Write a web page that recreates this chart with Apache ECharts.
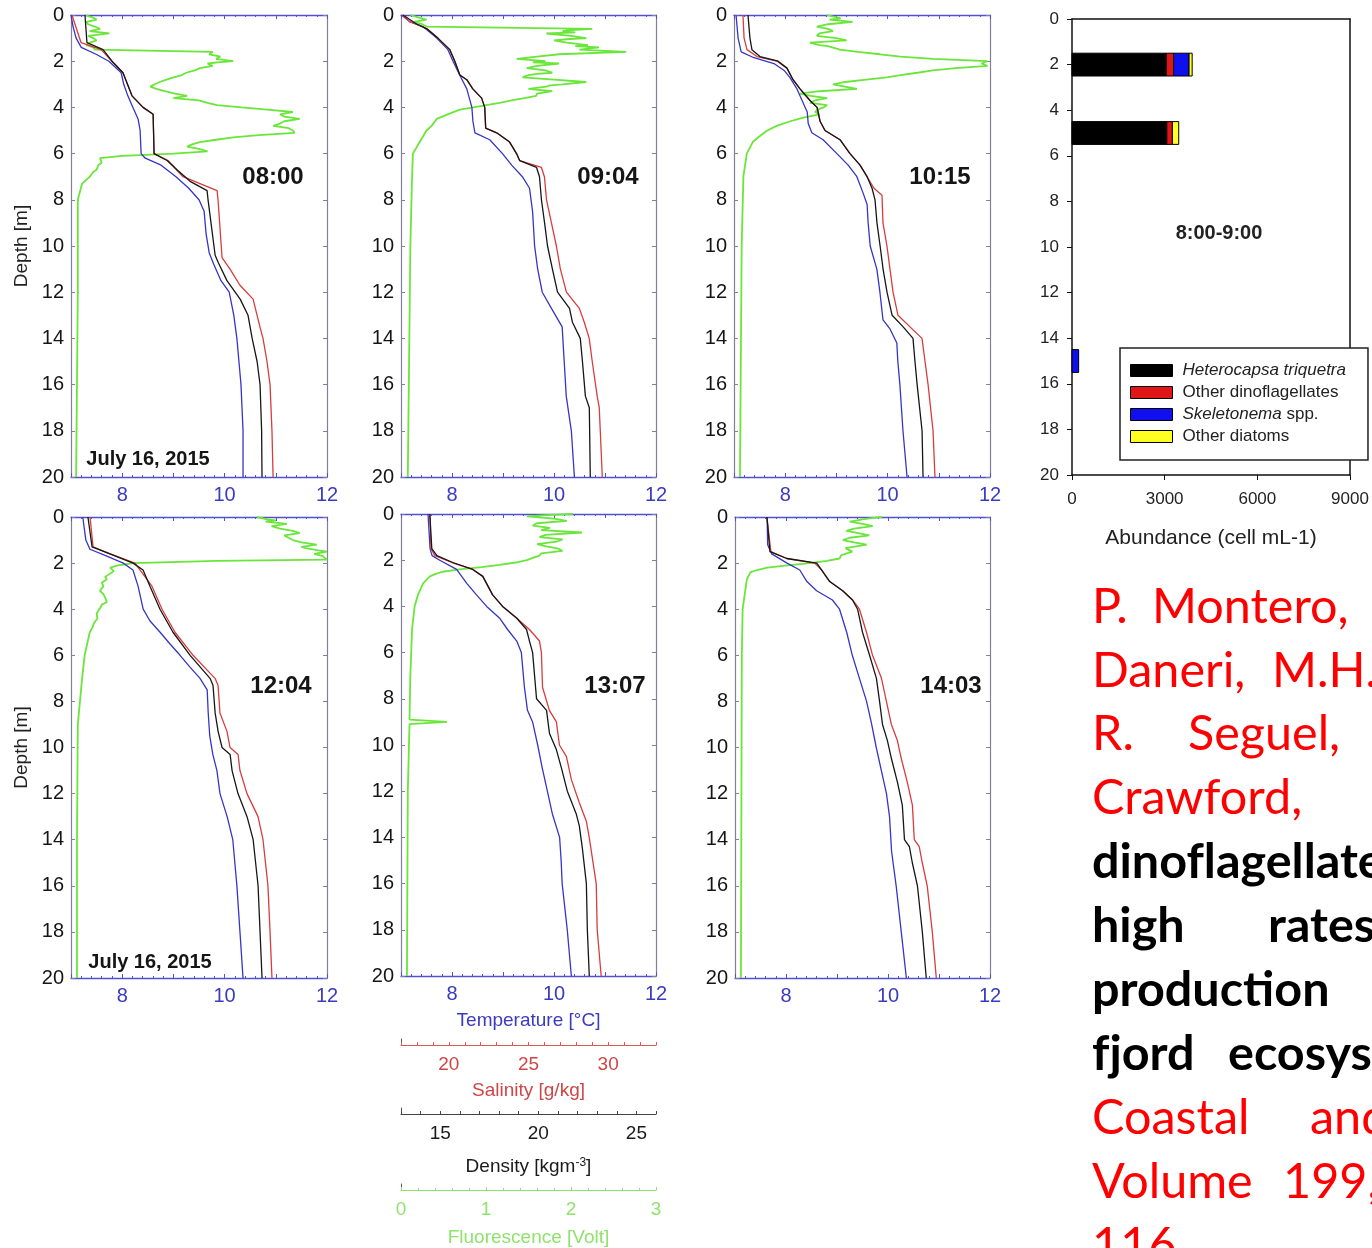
<!DOCTYPE html>
<html>
<head>
<meta charset="utf-8">
<script src="https://cdn.jsdelivr.net/npm/echarts@6/dist/echarts.min.js"></script>
<style>
  html, body { margin: 0; padding: 0; background: #ffffff; }
  #chart { width: 1372px; height: 1248px; }
</style>
</head>
<body>
<div id="chart"></div>
<script>
// CTD casts of July 16, 2015: [depth (m), value] pairs per cast.
const castTimes = ['08:00', '09:04', '10:15', '12:04', '13:07', '14:03'];

// Temperature (°C)
const temp0800 = [[0,7.0],[0.5,7.04],[1.0,7.1],[1.4,7.2],[1.7,7.49],[2.0,7.74],[2.5,7.98],[3.0,8.03],[3.5,8.11],[4.0,8.21],[4.5,8.31],[5.0,8.35],[6.0,8.37],[6.2,8.45],[6.5,8.76],[7.0,9.05],[7.5,9.3],[8.0,9.5],[8.5,9.6],[9.5,9.64],[10.3,9.7],[10.8,9.79],[11.5,9.93],[12.0,10.09],[13,10.18],[14,10.24],[15,10.28],[16,10.32],[17,10.34],[18,10.36],[20,10.36]];
const temp0904 = [[0,7.01],[0.3,7.18],[0.5,7.43],[1.0,7.7],[1.5,7.92],[2.0,8.02],[2.6,8.15],[3.2,8.29],[4.0,8.39],[4.6,8.41],[5.1,8.45],[5.4,8.74],[6.0,8.99],[6.5,9.17],[7.0,9.38],[7.5,9.52],[8.5,9.58],[10,9.62],[11,9.68],[12,9.77],[12.7,9.95],[13.5,10.16],[15,10.2],[16.5,10.24],[18,10.34],[20,10.4]];
const temp1015 = [[0,7.04],[1.0,7.08],[1.6,7.14],[1.85,7.39],[2.1,7.78],[2.4,7.98],[2.7,8.09],[3.2,8.23],[3.7,8.33],[4.2,8.43],[4.7,8.45],[5.1,8.52],[5.4,8.74],[6.0,9.01],[6.5,9.23],[7.0,9.4],[7.7,9.52],[8.2,9.6],[9,9.62],[10,9.66],[11,9.79],[12,9.85],[13.2,9.91],[13.6,10.05],[14.2,10.18],[15,10.2],[16,10.24],[18,10.3],[20,10.38]];
const temp1204 = [[0,7.23],[1.0,7.29],[1.4,7.37],[1.7,7.7],[2.0,8.02],[2.3,8.21],[3.0,8.31],[4.0,8.41],[4.5,8.54],[5.0,8.74],[5.5,8.93],[6.0,9.13],[6.5,9.32],[7.0,9.52],[7.5,9.66],[8.5,9.68],[9.5,9.71],[10.3,9.77],[11,9.85],[12,9.91],[13,10.05],[14,10.16],[16,10.24],[18,10.3],[20,10.36]];
const temp1307 = [[0,7.53],[1.5,7.57],[1.8,7.61],[2.0,7.76],[2.4,8.09],[3.0,8.29],[3.5,8.48],[4.0,8.68],[4.5,8.93],[5.0,9.09],[5.5,9.27],[6.0,9.36],[6.5,9.38],[7.5,9.42],[8.5,9.48],[9.0,9.58],[10,9.68],[11,9.77],[12,9.87],[13,9.97],[14,10.11],[15,10.14],[16,10.16],[18,10.26],[20,10.34]];
const temp1403 = [[0,7.63],[1.2,7.64],[1.6,7.72],[2.0,8.02],[2.3,8.27],[2.8,8.41],[3.2,8.6],[3.6,8.91],[4.0,9.05],[5.0,9.19],[6.0,9.3],[7.0,9.44],[8.0,9.58],[9.0,9.68],[10,9.77],[11,9.87],[12,9.97],[13,10.03],[14.5,10.07],[16,10.16],[18,10.26],[20,10.36]];

// Salinity (g/kg)
const sal0800 = [[0,17.06],[1.2,17.63],[1.5,18.88],[2.0,19.56],[2.5,20.25],[3.5,20.81],[4.0,21.5],[4.3,22.13],[6.0,22.19],[6.3,23.06],[7.0,24.0],[7.6,26.13],[8.0,26.19],[10.5,26.44],[11,26.94],[11.7,27.56],[12.3,28.38],[13.5,28.81],[14,29.0],[15,29.25],[16,29.44],[18,29.56],[20,29.63]];
const sal0904 = [[0,17.06],[0.3,17.56],[0.4,18.0],[0.6,18.63],[1.0,19.31],[1.5,20.06],[2.0,20.38],[2.6,20.69],[2.8,21.13],[3.2,21.5],[3.6,22.06],[4.0,22.25],[4.9,22.31],[5.1,23.0],[5.5,23.81],[6.0,24.25],[6.3,24.44],[6.6,25.81],[7.0,26.0],[8.0,26.13],[9.0,26.44],[10,26.75],[11,27.0],[12,27.38],[12.7,28.19],[13.3,28.5],[14,28.81],[15,29.0],[16.5,29.31],[17,29.44],[20,29.63]];
const sal1015 = [[0,17.56],[1.0,17.63],[1.5,17.81],[1.8,18.44],[2.0,19.69],[2.3,20.31],[2.8,20.69],[3.2,21.13],[3.7,21.75],[4.0,22.19],[4.6,22.38],[5.0,22.69],[5.4,23.63],[6.0,24.25],[6.5,24.88],[7.0,25.31],[7.5,25.75],[7.8,26.25],[9,26.31],[10,26.56],[11,26.75],[12,26.94],[13,27.25],[13.5,28.0],[14,28.75],[15,28.94],[16,29.13],[18,29.44],[20,29.56]];
const sal1204 = [[0,18.19],[1.3,18.38],[1.6,19.44],[2.0,21.0],[3.0,22.06],[4.0,22.69],[5.0,23.5],[6.0,24.63],[7.0,26.0],[7.3,26.19],[8.5,26.31],[9.3,26.75],[10,26.94],[10.3,27.44],[11,27.56],[12,28.0],[13,28.69],[14,29.0],[16,29.31],[18,29.44],[20,29.56]];
const sal1307 = [[0,18.81],[1.5,18.88],[1.8,19.13],[2.1,20.19],[2.4,21.5],[2.7,22.13],[3.5,22.75],[4.0,23.38],[4.5,24.25],[5.0,25.06],[5.5,25.69],[6.0,25.81],[7.5,25.88],[8.5,26.31],[9.0,26.75],[10,26.94],[10.5,27.38],[11.5,27.69],[12.5,28.19],[13.3,28.63],[14,28.81],[16,29.25],[18,29.31],[20,29.56]];
const sal1403 = [[0,19.0],[1.5,19.25],[1.8,20.25],[2.0,22.0],[2.3,22.44],[2.8,22.94],[3.2,23.75],[3.6,24.38],[4.0,24.81],[5.0,25.25],[6.0,25.63],[7.0,26.19],[8.0,26.5],[9.0,26.81],[9.7,27.19],[10.5,27.44],[11.5,27.81],[12.5,28.13],[14,28.25],[14.3,28.56],[15,28.75],[16,29.06],[18,29.38],[20,29.63]];

// Density (kg m-3)
const dens0800 = [[0,13.71],[1.2,13.81],[1.5,14.63],[2.0,15.08],[2.5,15.64],[3.5,16.1],[4.0,16.66],[4.3,17.17],[6.0,17.22],[6.3,17.88],[6.7,18.38],[7.2,19.05],[7.6,19.91],[8.0,19.96],[10.4,20.32],[10.7,20.47],[11.5,20.92],[12.3,21.59],[13,21.99],[14,22.2],[15,22.45],[16,22.6],[18,22.68],[20,22.7]];
const dens0904 = [[0,13.1],[0.4,13.81],[0.6,14.32],[1.0,14.88],[1.5,15.49],[2.0,15.74],[2.6,16.0],[2.8,16.35],[3.2,16.66],[3.6,17.11],[4.0,17.27],[4.9,17.32],[5.1,17.88],[5.5,18.54],[6.0,18.89],[6.3,19.05],[6.6,19.91],[7.0,20.06],[8.0,20.16],[9.0,20.32],[10,20.47],[11,20.72],[12,20.98],[12.7,21.59],[13.3,21.74],[14,22.14],[15,22.25],[16.5,22.4],[17,22.6],[20,22.65]];
const dens1015 = [[0,13.71],[1.0,13.81],[1.5,13.91],[1.8,14.32],[2.0,15.24],[2.3,15.69],[2.8,16.0],[3.2,16.35],[3.7,16.86],[4.0,17.22],[4.6,17.37],[5.0,17.62],[5.4,18.38],[6.0,18.89],[6.5,19.4],[7.0,19.76],[7.5,20.01],[8.0,20.16],[9,20.26],[10,20.42],[11,20.57],[12,20.77],[13,21.03],[13.5,21.59],[14,22.09],[15,22.19],[16,22.3],[18,22.55],[20,22.6]];
const dens1204 = [[0,13.86],[1.3,14.07],[1.6,14.98],[2.0,16.15],[2.3,16.66],[3.0,17.01],[4.0,17.52],[5.0,18.18],[6.0,19.05],[7.0,20.06],[7.3,20.21],[8.5,20.32],[9.3,20.47],[10,20.67],[10.3,21.08],[11,21.18],[12,21.48],[13,21.94],[14,22.25],[16,22.5],[18,22.6],[20,22.7]];
const dens1307 = [[0,14.47],[1.5,14.57],[1.8,14.83],[2.1,15.64],[2.4,16.66],[2.7,17.17],[3.5,17.67],[4.0,18.18],[4.5,18.89],[5.0,19.4],[5.5,19.55],[6.0,19.71],[7.0,19.81],[8.0,19.91],[8.5,20.42],[9.5,20.57],[10.2,20.92],[11,21.18],[12,21.48],[13,21.94],[13.5,22.09],[14.5,22.25],[16,22.45],[18,22.5],[20,22.6]];
const dens1403 = [[0,14.63],[1.5,14.78],[1.8,15.64],[2.0,17.17],[2.3,17.42],[2.8,17.83],[3.2,18.49],[3.6,18.99],[4.0,19.25],[5.0,19.5],[6.0,19.86],[7.0,20.21],[8.0,20.37],[9.0,20.52],[9.7,20.77],[10.5,20.98],[11.5,21.28],[12.5,21.53],[14,21.64],[14.3,21.89],[15,22.04],[16,22.3],[18,22.55],[20,22.75]];

// Fluorescence (Volt)
const fluo0800 = [[0,0.16],[0.1,0.25],[0.2,0.3],[0.3,0.18],[0.4,0.2],[0.5,0.28],[0.6,0.34],[0.7,0.22],[0.8,0.45],[0.9,0.2],[1.0,0.26],[1.1,0.3],[1.2,0.22],[1.3,0.18],[1.4,0.26],[1.5,0.28],[1.6,1.66],[1.7,1.62],[1.8,1.75],[1.9,1.7],[2.0,1.9],[2.05,1.72],[2.1,1.6],[2.2,1.66],[2.3,1.51],[2.4,1.45],[2.5,1.35],[2.6,1.3],[2.7,1.2],[2.8,1.12],[2.9,1.04],[3.0,0.98],[3.1,0.93],[3.2,1.0],[3.3,1.1],[3.4,1.22],[3.5,1.36],[3.6,1.2],[3.7,1.5],[3.8,1.6],[3.9,1.71],[4.0,2.0],[4.1,2.3],[4.2,2.6],[4.3,2.45],[4.4,2.5],[4.5,2.68],[4.6,2.5],[4.7,2.45],[4.8,2.37],[4.9,2.55],[5.0,2.6],[5.1,2.62],[5.2,2.2],[5.3,1.9],[5.4,1.7],[5.5,1.51],[5.6,1.42],[5.7,1.36],[5.8,1.5],[5.9,1.6],[6.0,1.2],[6.1,0.6],[6.2,0.34],[6.4,0.36],[6.5,0.32],[6.7,0.3],[6.8,0.26],[7.0,0.22],[7.2,0.16],[7.3,0.13],[8,0.08],[12,0.08],[20,0.06]];
const fluo0904 = [[0,0.11],[0.1,0.2],[0.2,0.3],[0.3,0.15],[0.4,0.25],[0.5,0.3],[0.6,2.25],[0.65,2.0],[0.7,1.9],[0.75,2.05],[0.8,1.71],[0.9,2.0],[1.0,2.18],[1.05,1.95],[1.1,1.8],[1.2,1.95],[1.3,2.2],[1.35,2.05],[1.4,2.33],[1.5,2.1],[1.6,2.65],[1.7,1.86],[1.8,1.6],[1.9,1.36],[2.0,1.7],[2.05,1.55],[2.1,1.86],[2.2,1.6],[2.3,1.48],[2.4,1.7],[2.5,1.78],[2.55,1.6],[2.6,1.5],[2.7,1.43],[2.8,1.8],[2.9,2.18],[3.0,1.9],[3.05,1.75],[3.1,1.71],[3.2,1.5],[3.3,1.78],[3.4,1.6],[3.5,1.59],[3.6,1.45],[3.7,1.3],[3.8,1.16],[4.0,0.85],[4.1,0.69],[4.3,0.55],[4.5,0.42],[4.8,0.36],[5.0,0.3],[5.5,0.22],[6.0,0.14],[7.0,0.13],[10,0.11],[20,0.08]];
const fluo1015 = [[0,1.09],[0.1,1.2],[0.15,1.25],[0.2,1.12],[0.3,1.39],[0.4,1.1],[0.5,0.97],[0.6,1.1],[0.7,1.16],[0.8,1.0],[0.9,0.97],[1.0,1.2],[1.1,1.32],[1.2,0.89],[1.3,1.0],[1.35,1.1],[1.5,1.24],[1.6,1.45],[1.7,1.71],[1.8,1.95],[1.9,2.33],[2.0,2.97],[2.1,2.9],[2.2,2.97],[2.3,2.6],[2.4,2.33],[2.5,2.15],[2.6,1.95],[2.7,1.79],[2.8,1.55],[2.9,1.3],[3.0,1.16],[3.1,1.3],[3.2,1.44],[3.3,1.0],[3.4,0.77],[3.5,0.9],[3.6,1.09],[3.7,0.95],[3.8,0.89],[3.9,1.09],[4.0,1.05],[4.1,0.98],[4.2,0.95],[4.3,1.0],[4.45,0.8],[4.6,0.66],[4.8,0.5],[5.0,0.39],[5.25,0.3],[5.5,0.22],[6.0,0.15],[7.0,0.11],[10,0.09],[20,0.07]];
const fluo1204 = [[0,2.18],[0.1,2.3],[0.15,2.4],[0.2,2.28],[0.3,2.53],[0.4,2.35],[0.5,2.45],[0.6,2.6],[0.7,2.68],[0.8,2.5],[0.9,2.55],[1.0,2.6],[1.1,2.7],[1.2,2.88],[1.3,2.7],[1.35,2.75],[1.45,2.9],[1.5,3.0],[1.6,2.85],[1.7,2.95],[1.85,3.0],[1.9,1.71],[2.0,0.73],[2.1,0.55],[2.2,0.46],[2.35,0.5],[2.5,0.44],[2.6,0.4],[2.7,0.42],[2.85,0.36],[3.0,0.38],[3.2,0.34],[3.35,0.38],[3.5,0.4],[3.7,0.42],[3.8,0.36],[3.9,0.35],[4.0,0.33],[4.2,0.3],[4.4,0.31],[4.6,0.27],[4.8,0.25],[5.0,0.22],[5.5,0.19],[6.0,0.16],[7.0,0.13],[9,0.08],[14,0.07],[20,0.07]];
const fluo1307 = [[0,2.02],[0.05,1.7],[0.1,1.48],[0.2,1.8],[0.3,1.95],[0.4,1.6],[0.5,1.55],[0.6,1.75],[0.7,1.65],[0.8,2.13],[0.9,1.7],[1.0,1.63],[1.1,1.9],[1.2,1.83],[1.3,1.6],[1.4,1.71],[1.5,1.85],[1.6,1.9],[1.7,1.65],[1.8,1.63],[1.9,1.55],[2.0,1.48],[2.1,1.35],[2.2,1.16],[2.3,0.95],[2.4,0.69],[2.5,0.49],[2.6,0.4],[2.7,0.34],[2.85,0.3],[3.0,0.26],[3.25,0.23],[3.5,0.2],[3.75,0.18],[4.0,0.16],[5.0,0.13],[7.0,0.11],[8.9,0.1],[9.0,0.54],[9.1,0.1],[12,0.08],[20,0.07]];
const fluo1403 = [[0,1.73],[0.05,1.6],[0.1,1.5],[0.2,1.35],[0.3,1.5],[0.4,1.62],[0.5,1.4],[0.6,1.31],[0.7,1.45],[0.8,1.58],[0.9,1.35],[1.0,1.27],[1.1,1.4],[1.2,1.55],[1.35,1.3],[1.5,1.38],[1.65,1.25],[1.8,1.23],[1.9,1.08],[2.0,0.88],[2.1,0.62],[2.2,0.38],[2.3,0.26],[2.4,0.18],[2.55,0.16],[2.7,0.14],[3.2,0.12],[4.0,0.09],[6.0,0.08],[20,0.07]];

const tempCasts = [temp0800, temp0904, temp1015, temp1204, temp1307, temp1403];
const salCasts = [sal0800, sal0904, sal1015, sal1204, sal1307, sal1403];
const densCasts = [dens0800, dens0904, dens1015, dens1204, dens1307, dens1403];
const fluoCasts = [fluo0800, fluo0904, fluo1015, fluo1204, fluo1307, fluo1403];

// Axis ranges and tick label steps
const depthRange = [0, 20];
const tempRange = [7, 12];
const salRange = [17, 33];
const densRange = [13, 26];
const fluoRange = [0, 3];
const abundanceRange = [0, 9000];
const tempLabelStep = 2, salLabelStep = 5, densLabelStep = 5, fluoLabelStep = 1;

// Phytoplankton abundance (cells/mL), sampled 8:00-9:00
const sampleDepths = [2, 5, 15];
const heterocapsa = [3050, 3070, 0];
const otherDinoflagellates = [240, 180, 0];
const skeletonema = [500, 0, 215];
const otherDiatoms = [100, 205, 0];

const FONT = '"Liberation Sans", Arial, Helvetica, sans-serif';
const C_TEMP = '#3535c6', C_SAL = '#d83c3c', C_DENS = '#161616', C_FLUO = '#6ae63a';
const AXIS_BLUE = '#5050d0', LABEL_BLUE = '#3a3ac2', FRAME = '#80809a';

const panels = [
  { left: 71,  top: 15,  width: 256, height: 462 },
  { left: 401, top: 15,  width: 255, height: 462 },
  { left: 734, top: 15,  width: 256, height: 462 },
  { left: 71,  top: 517, width: 256, height: 461 },
  { left: 401, top: 514, width: 255, height: 462 },
  { left: 735, top: 517, width: 255, height: 461 }
];

const grid = [], xAxis = [], yAxis = [], series = [];

function stepFormatter(step) {
  return v => (Math.abs(v / step - Math.round(v / step)) < 1e-6 ? String(v) : '');
}

function profileLine(pairs, xi, yi, color, width, z) {
  return {
    type: 'line', xAxisIndex: xi, yAxisIndex: yi,
    data: pairs.map(p => [p[1], p[0]]),
    symbol: 'none', showSymbol: false, silent: true,
    lineStyle: { color: color, width: width }, z: z
  };
}

panels.forEach((p, i) => {
  const gi = grid.length;
  grid.push({ left: p.left, top: p.top, width: p.width, height: p.height });
  const xb = xAxis.length;
  xAxis.push({
    gridIndex: gi, type: 'value', position: 'bottom',
    min: tempRange[0], max: tempRange[1], interval: 1,
    axisLine: { show: true, onZero: false, lineStyle: { color: AXIS_BLUE, width: 1.3 } },
    axisTick: { show: true, inside: true, length: 4, lineStyle: { color: AXIS_BLUE } },
    minorTick: { show: true, splitNumber: 5, length: 2, lineStyle: { color: AXIS_BLUE } },
    axisLabel: { color: LABEL_BLUE, fontSize: 20, fontFamily: FONT, margin: 8, formatter: stepFormatter(tempLabelStep) },
    splitLine: { show: false },
    name: i === 4 ? 'Temperature [°C]' : '', nameLocation: 'middle', nameGap: 35,
    nameTextStyle: { color: LABEL_BLUE, fontSize: 19, fontFamily: FONT }
  });
  xAxis.push({
    gridIndex: gi, type: 'value', position: 'top',
    min: tempRange[0], max: tempRange[1], interval: 1,
    axisLine: { show: true, onZero: false, lineStyle: { color: AXIS_BLUE, width: 1.3 } },
    axisTick: { show: true, inside: true, length: 4, lineStyle: { color: AXIS_BLUE } },
    minorTick: { show: true, splitNumber: 5, length: 2, lineStyle: { color: AXIS_BLUE } },
    axisLabel: { show: false }, splitLine: { show: false }
  });
  [salRange, densRange, fluoRange].forEach(r => {
    xAxis.push({ gridIndex: gi, type: 'value', show: false, min: r[0], max: r[1], splitLine: { show: false } });
  });
  const yb = yAxis.length;
  yAxis.push({
    gridIndex: gi, type: 'value', inverse: true, position: 'left',
    min: depthRange[0], max: depthRange[1], interval: 2,
    axisLine: { show: true, onZero: false, lineStyle: { color: FRAME, width: 1.2 } },
    axisTick: { show: true, inside: true, length: 4, lineStyle: { color: FRAME } },
    axisLabel: { color: '#151515', fontSize: 20, fontFamily: FONT, margin: 7 },
    splitLine: { show: false },
    name: (i === 0 || i === 3) ? 'Depth [m]' : '', nameLocation: 'middle', nameRotate: 90, nameGap: 40,
    nameTextStyle: { color: '#222', fontSize: 19, fontFamily: FONT }
  });
  yAxis.push({
    gridIndex: gi, type: 'value', inverse: true, position: 'right',
    min: depthRange[0], max: depthRange[1], interval: 2,
    axisLine: { show: true, onZero: false, lineStyle: { color: FRAME, width: 1.2 } },
    axisTick: { show: true, inside: true, length: 4, lineStyle: { color: FRAME } },
    axisLabel: { show: false }, splitLine: { show: false }
  });
  series.push(profileLine(fluoCasts[i], xb + 4, yb, C_FLUO, 1.8, 2));
  series.push(profileLine(tempCasts[i], xb, yb, C_TEMP, 1.3, 3));
  series.push(profileLine(salCasts[i], xb + 2, yb, C_SAL, 1.3, 4));
  series.push(profileLine(densCasts[i], xb + 3, yb, C_DENS, 1.3, 5));
});

// Abundance panel
const barGi = grid.length;
grid.push({ left: 1072, top: 19, width: 278, height: 456 });
const barX = xAxis.length;
xAxis.push({
  gridIndex: barGi, type: 'value', position: 'bottom',
  min: abundanceRange[0], max: abundanceRange[1], interval: 3000,
  axisLine: { show: true, onZero: false, lineStyle: { color: '#111', width: 1.5 } },
  axisTick: { show: true, inside: false, length: 5, lineStyle: { color: '#111' } },
  axisLabel: { color: '#222', fontSize: 17, fontFamily: FONT, margin: 16, formatter: v => String(v) },
  splitLine: { show: false },
  name: 'Abundance (cell mL-1)', nameLocation: 'middle', nameGap: 53,
  nameTextStyle: { color: '#222', fontSize: 21, fontFamily: FONT }
});
xAxis.push({
  gridIndex: barGi, type: 'value', position: 'top',
  min: abundanceRange[0], max: abundanceRange[1],
  axisLine: { show: true, onZero: false, lineStyle: { color: '#111', width: 1.5 } },
  axisTick: { show: false }, axisLabel: { show: false }, splitLine: { show: false }
});
const barY = yAxis.length;
yAxis.push({
  gridIndex: barGi, type: 'value', inverse: true, position: 'left',
  min: depthRange[0], max: depthRange[1], interval: 2,
  axisLine: { show: true, onZero: false, lineStyle: { color: '#111', width: 1.5 } },
  axisTick: { show: true, inside: false, length: 5, lineStyle: { color: '#111' } },
  axisLabel: { color: '#222', fontSize: 17, fontFamily: FONT, margin: 13, formatter: v => String(v) },
  splitLine: { show: false }
});
yAxis.push({
  gridIndex: barGi, type: 'value', inverse: true, position: 'right',
  min: depthRange[0], max: depthRange[1],
  axisLine: { show: true, onZero: false, lineStyle: { color: '#111', width: 1.5 } },
  axisTick: { show: false }, axisLabel: { show: false }, splitLine: { show: false }
});

const taxa = [
  { name: 'Heterocapsa triquetra', values: heterocapsa, color: '#000000' },
  { name: 'Other dinoflagellates', values: otherDinoflagellates, color: '#e01515' },
  { name: 'Skeletonema spp.', values: skeletonema, color: '#1010ee' },
  { name: 'Other diatoms', values: otherDiatoms, color: '#ffff22' }
];
const barThickness = 1; // metres of depth covered by each bar
const cumulative = sampleDepths.map(() => 0);
taxa.forEach(t => {
  const data = [];
  sampleDepths.forEach((d, k) => {
    if (t.values[k] > 0) data.push([d, cumulative[k], cumulative[k] + t.values[k]]);
    cumulative[k] += t.values[k];
  });
  series.push({
    type: 'custom', name: t.name, xAxisIndex: barX, yAxisIndex: barY,
    itemStyle: { color: t.color },
    encode: { x: [1, 2], y: 0 },
    data: data,
    renderItem: (params, api) => {
      const d = api.value(0);
      const a = api.coord([api.value(1), d]);
      const b = api.coord([api.value(2), d]);
      const h = api.size([0, barThickness])[1];
      return {
        type: 'rect',
        shape: { x: a[0], y: a[1] - h / 2, width: b[0] - a[0], height: h },
        style: { fill: t.color, stroke: '#000', lineWidth: 1 }
      };
    },
    z: 3
  });
});

// Stand-alone scales for salinity, density and fluorescence
const scales = [
  { top: 1039, range: salRange, step: salLabelStep, color: '#cf4646', line: '#d85a5a', name: 'Salinity [g/kg]', gap: 36, minor: 1 },
  { top: 1108, range: densRange, step: densLabelStep, color: '#1a1a1a', line: '#444', name: 'Density [kgm{sup|-3}]', gap: 43, minor: 1 },
  { top: 1184, range: fluoRange, step: fluoLabelStep, color: '#8fe26c', line: '#8fe26c', name: 'Fluorescence [Volt]', gap: 38, minor: 5 }
];
scales.forEach(s => {
  const gi = grid.length;
  grid.push({ left: 401, top: s.top, width: 255, height: 6 });
  xAxis.push({
    gridIndex: gi, type: 'value', position: 'bottom',
    min: s.range[0], max: s.range[1], interval: 1,
    axisLine: { show: true, onZero: false, lineStyle: { color: s.line, width: 1.2 } },
    axisTick: { show: true, inside: true, length: 3, lineStyle: { color: s.line } },
    minorTick: { show: s.minor > 1, splitNumber: s.minor, length: 2, lineStyle: { color: s.line } },
    axisLabel: { color: s.color, fontSize: 19, fontFamily: FONT, margin: 10, formatter: stepFormatter(s.step) },
    splitLine: { show: false },
    name: s.name, nameLocation: 'middle', nameGap: s.gap,
    nameTextStyle: {
      color: s.color, fontSize: 19, fontFamily: FONT,
      rich: { sup: { fontSize: 12, color: s.color, fontFamily: FONT, verticalAlign: 'top', padding: [0, 0, 6, 0] } }
    }
  });
  yAxis.push({
    gridIndex: gi, type: 'value', min: 0, max: 1,
    axisLine: { show: true, onZero: false, lineStyle: { color: '#555', width: 1 } },
    axisTick: { show: false }, axisLabel: { show: false }, splitLine: { show: false }
  });
});

// Text annotations
const graphic = [];
function addText(text, x, y, font, fill, align) {
  graphic.push({
    type: 'text', silent: true, z: 20,
    style: { text: text, x: x, y: y, font: font, fill: fill,
      align: align || 'center', verticalAlign: 'middle',
      textAlign: align || 'center', textVerticalAlign: 'middle' }
  });
}
const timeLabelPos = [[273, 177], [608, 177], [940, 177], [281, 686], [615, 686], [951, 686]];
castTimes.forEach((t, i) => addText(t, timeLabelPos[i][0], timeLabelPos[i][1], 'bold 24px ' + FONT, '#151515'));
addText('July 16, 2015', 148, 459, 'bold 20px ' + FONT, '#151515');
addText('July 16, 2015', 150, 962, 'bold 20px ' + FONT, '#151515');
addText('8:00-9:00', 1219, 233, 'bold 20px ' + FONT, '#222');

// Reference line set in justified type beside the figure
// (zero-width non-joiners keep the f-ligatures apart)
const citationWords = [
  ['P.', 'Montero,'],
  ['Daneri,', 'M.H.'],
  ['R.', 'Seguel,'],
  ['Crawford,'],
  ['dinof\u200Clagellate'],
  ['high', 'rates'],
  ['production'],
  ['f\u200Cjord', 'ecosystem'],
  ['Coastal', 'and'],
  ['Volume', '199,'],
  ['116']
];
const citationBold = [false, false, false, false, true, true, true, true, false, false, false];
const citationWordX = [[1092, 1152], [1092, 1272], [1092, 1188], [1092], [1092], [1092, 1268], [1092], [1092, 1228], [1092, 1310], [1092, 1283], [1092]];
citationWords.forEach((words, k) => {
  const y = 607 + k * 63.9;
  const bold = citationBold[k];
  words.forEach((w, j) => {
    addText(w, citationWordX[k][j], y, (bold ? 'bold ' : '') + '48.5px Lato, "Open Sans", sans-serif', bold ? '#000' : '#ff0000', 'left');
  });
});

const chart = echarts.init(document.getElementById('chart'), null, { renderer: 'canvas' });
chart.setOption({
  animation: false,
  backgroundColor: '#ffffff',
  textStyle: { fontFamily: FONT },
  grid: grid,
  xAxis: xAxis,
  yAxis: yAxis,
  legend: {
    show: true, left: 1120, top: 348, orient: 'vertical',
    data: taxa.map(t => t.name), selectedMode: false,
    icon: 'rect', itemWidth: 42, itemHeight: 12, itemGap: 5,
    backgroundColor: '#ffffff', borderColor: '#222', borderWidth: 1.5, borderRadius: 0,
    padding: [14, 22, 15, 10],
    itemStyle: { borderColor: '#000', borderWidth: 1 },
    textStyle: {
      color: '#222', fontSize: 17, fontFamily: FONT, padding: [0, 0, 0, 5],
      rich: { i: { fontStyle: 'italic', color: '#222', fontSize: 17, fontFamily: FONT } }
    },
    formatter: name => {
      if (name === 'Heterocapsa triquetra') return '{i|Heterocapsa triquetra}';
      if (name === 'Skeletonema spp.') return '{i|Skeletonema} spp.';
      return name;
    }
  },
  series: series,
  graphic: graphic
});
</script>
</body>
</html>
